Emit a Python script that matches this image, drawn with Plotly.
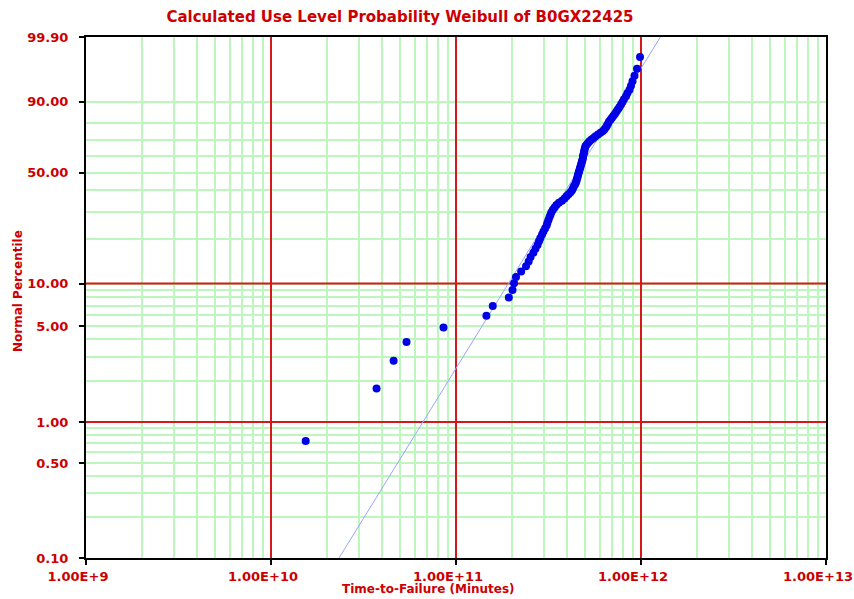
import numpy as np
import plotly.graph_objects as go

# ---------------- data ----------------
TIME_TO_FAILURE = [
    1.54e10, 3.72e10, 4.60e10, 5.40e10, 8.56e10, 1.46e11, 1.58e11, 1.93e11,
    2.02e11, 2.06e11, 2.11e11, 2.25e11, 2.39e11, 2.47e11, 2.53e11, 2.62e11,
    2.69e11, 2.76e11, 2.81e11, 2.86e11, 2.92e11, 2.97e11, 3.03e11, 3.09e11,
    3.12e11, 3.16e11, 3.20e11, 3.24e11, 3.28e11, 3.34e11, 3.41e11, 3.49e11,
    3.60e11, 3.74e11, 3.86e11, 3.96e11, 4.06e11, 4.16e11, 4.24e11, 4.29e11,
    4.34e11, 4.40e11, 4.45e11, 4.48e11, 4.51e11, 4.54e11, 4.56e11, 4.59e11,
    4.62e11, 4.65e11, 4.68e11, 4.71e11, 4.74e11, 4.77e11, 4.80e11, 4.83e11,
    4.85e11, 4.86e11, 4.89e11, 4.91e11, 4.93e11, 4.95e11, 4.98e11, 5.01e11,
    5.08e11, 5.17e11, 5.27e11, 5.40e11, 5.54e11, 5.68e11, 5.86e11, 6.04e11,
    6.23e11, 6.35e11, 6.47e11, 6.55e11, 6.63e11, 6.71e11, 6.84e11, 6.97e11,
    7.10e11, 7.24e11, 7.37e11, 7.51e11, 7.65e11, 7.80e11, 7.94e11, 8.09e11,
    8.30e11, 8.45e11, 8.67e11, 8.83e11, 9.00e11, 9.22e11, 9.52e11, 9.88e11,
]
PERCENTILE = [
    0.726, 1.763, 2.801, 3.838, 4.876, 5.913, 6.950, 7.988,
    9.025, 10.062, 11.100, 12.137, 13.174, 14.212, 15.249, 16.286,
    17.324, 18.361, 19.398, 20.436, 21.473, 22.510, 23.548, 24.585,
    25.622, 26.660, 27.697, 28.734, 29.772, 30.809, 31.846, 32.884,
    33.921, 34.959, 35.996, 37.033, 38.071, 39.108, 40.145, 41.183,
    42.220, 43.257, 44.295, 45.332, 46.369, 47.407, 48.444, 49.481,
    50.519, 51.556, 52.593, 53.631, 54.668, 55.705, 56.743, 57.780,
    58.817, 59.855, 60.892, 61.929, 62.967, 64.004, 65.041, 66.079,
    67.116, 68.154, 69.191, 70.228, 71.266, 72.303, 73.340, 74.378,
    75.415, 76.452, 77.490, 78.527, 79.564, 80.602, 81.639, 82.676,
    83.714, 84.751, 85.788, 86.826, 87.863, 88.900, 89.938, 90.975,
    92.012, 93.050, 94.087, 95.124, 96.162, 97.199, 98.237, 99.274,
]
# fitted Weibull line
BETA = 2.21
ETA = 5.31e11

Y_TICK_VALUES = [0.1, 0.5, 1, 5, 10, 50, 90, 99.9]
Y_TICK_LABELS = ["0.10", "0.50", "1.00", "5.00", "10.00", "50.00", "90.00", "99.90"]
X_TICK_VALUES = [1e9, 1e10, 1e11, 1e12, 1e13]
X_TICK_LABELS = ["1.00E+9", "1.00E+10", "1.00E+11", "1.00E+12", "1.00E+13"]
Y_RED_LINES = [1, 10]

TITLE = "Calculated Use Level Probability Weibull of B0GX22425"
X_TITLE = "Time-to-Failure (Minutes)"
Y_TITLE = "Normal Percentile"

# ---------------- styling ----------------
RED = "#cc0000"
GRID_RED = "#d81818"
GRID_GREEN = "#bdf7bd"
FONT = "DejaVu Sans"
W, H = 854, 599


def weibull_scale(p):
    """Weibull probability-paper transform of a percentage."""
    p = np.asarray(p, dtype=float) / 100.0
    return np.log(-np.log(1.0 - p))


y_lo, y_hi = weibull_scale(Y_TICK_VALUES[0]), weibull_scale(Y_TICK_VALUES[-1])

y_minor = [d * m for m in (0.1, 1, 10) for d in range(1, 10)]
x_minor = [d * 10.0 ** e for e in range(9, 13) for d in range(2, 10)]

fig = go.Figure()

# red grid lines on the percentile axis
for p in Y_RED_LINES:
    fig.add_trace(go.Scatter(
        x=[X_TICK_VALUES[0], X_TICK_VALUES[-1]],
        y=[weibull_scale(p)] * 2,
        mode="lines", line=dict(color=GRID_RED, width=2),
        hoverinfo="skip", showlegend=False))

# fitted line
line_t = ETA * np.exp(np.array([y_lo, y_hi]) / BETA)
fig.add_trace(go.Scatter(
    x=line_t, y=BETA * np.log(line_t / ETA),
    mode="lines", line=dict(color="#98a4ff", width=1),
    hoverinfo="skip", showlegend=False))

# data points
fig.add_trace(go.Scatter(
    x=TIME_TO_FAILURE, y=weibull_scale(PERCENTILE),
    mode="markers", marker=dict(color="#0000e6", size=8, line=dict(width=0)),
    customdata=PERCENTILE,
    hovertemplate="%{x:.3e}<br>%{customdata:.2f}%<extra></extra>",
    showlegend=False))

tick_font = dict(family=FONT, size=13, color=RED, weight="bold")

fig.update_xaxes(
    type="log", range=[9, 13], automargin=False,
    tickmode="array", tickvals=X_TICK_VALUES, ticktext=X_TICK_LABELS,
    tickfont=tick_font, ticks="outside", ticklen=5, tickcolor="black", tickwidth=1.5,
    ticklabelshift=-8,
    showgrid=True, gridcolor=GRID_RED, gridwidth=2,
    minor=dict(tickmode="array", tickvals=x_minor, showgrid=True,
               gridcolor=GRID_GREEN, gridwidth=2, ticks=""),
    showline=True, linecolor="black", linewidth=2, mirror=True,
    zeroline=False, fixedrange=True,
)
fig.update_yaxes(
    range=[y_lo, y_hi], automargin=False,
    tickmode="array", tickvals=weibull_scale(Y_TICK_VALUES), ticktext=Y_TICK_LABELS,
    tickfont=tick_font, ticks="outside", ticklen=5, tickcolor="black", tickwidth=1.5,
    ticklabelstandoff=8,
    showgrid=False,
    minor=dict(tickmode="array", tickvals=weibull_scale(y_minor).tolist(), showgrid=True,
               gridcolor=GRID_GREEN, gridwidth=2, ticks=""),
    showline=True, linecolor="black", linewidth=2, mirror=True,
    zeroline=False, fixedrange=True,
)

fig.update_layout(
    width=W, height=H,
    margin=dict(l=86, r=28, t=37, b=41, autoexpand=False),
    paper_bgcolor="white", plot_bgcolor="white",
    title=dict(text=TITLE, x=400 / W, xanchor="center", xref="container",
               y=1 - 17 / H, yref="container", yanchor="middle",
               font=dict(family=FONT, size=15, color=RED, weight="bold")),
    annotations=[
        dict(text=X_TITLE, xref="paper", yref="paper", x=(428 - 86) / 740,
             y=-(589 - 558) / 521, xanchor="center", yanchor="middle",
             showarrow=False, font=dict(family=FONT, size=12, color=RED, weight="bold")),
        dict(text=Y_TITLE, xref="paper", yref="paper", x=(18 - 86) / 740,
             y=(558 - 291) / 521, xanchor="center", yanchor="middle", textangle=-90,
             showarrow=False, font=dict(family=FONT, size=12, color=RED, weight="bold")),
    ],
    showlegend=False,
)

fig.write_html(
    "out.html",
    config={"displayModeBar": False},
    post_script="document.body.style.margin='0';document.body.style.padding='0';"
                "document.documentElement.style.overflow='hidden';",
)
